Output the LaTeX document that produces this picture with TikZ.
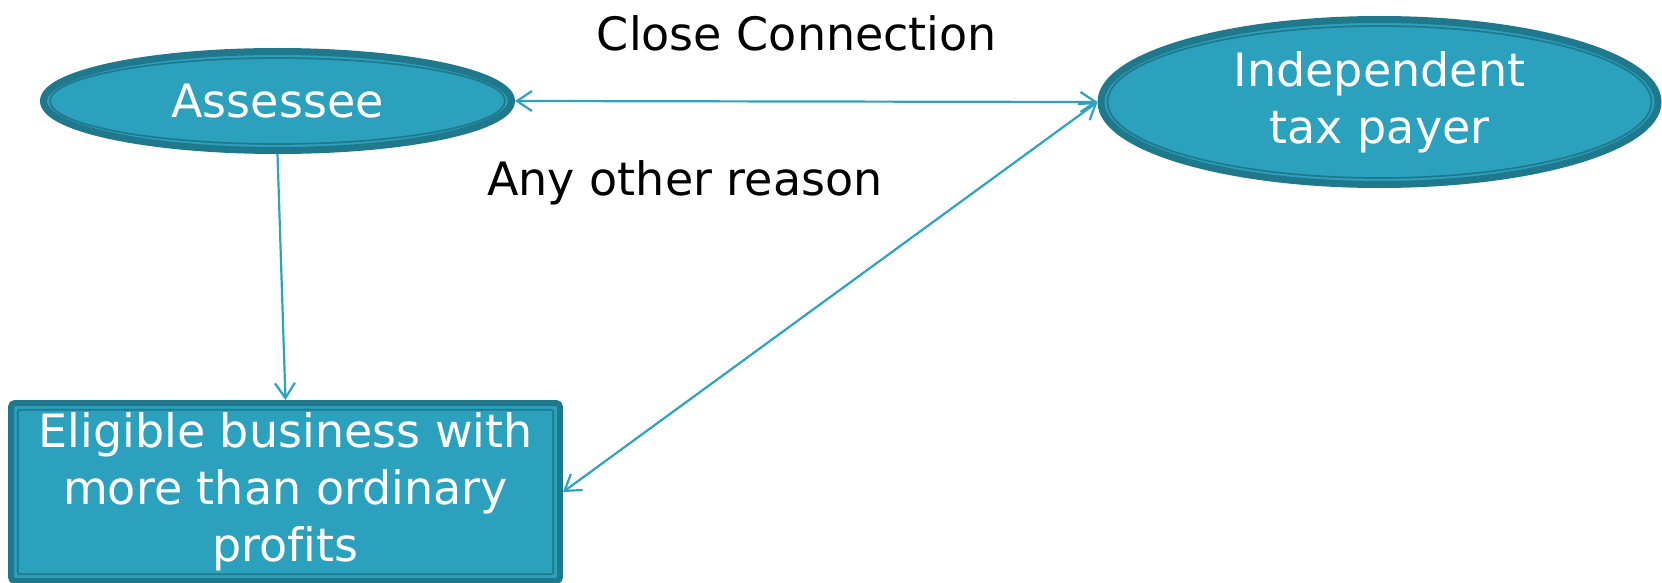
\documentclass[tikz,border=0pt]{standalone}
\usepackage{fontspec}
\setmainfont[Ligatures=NoCommon]{DejaVu Sans}
\usetikzlibrary{shapes.geometric,arrows.meta}
\definecolor{boxfill}{HTML}{2CA1BE}
\definecolor{boxedge}{HTML}{1F788C}
\definecolor{linkc}{HTML}{2DA3C0}
\tikzset{
  bigtext/.style={font=\fontsize{46}{57}\selectfont},
  oval/.style={ellipse, draw=boxedge, line width=7pt, fill=boxfill,
    text=white, align=center, inner sep=0pt, bigtext},
  panel/.style={rectangle, rounded corners=4pt, draw=boxedge, line width=6pt,
    fill=boxfill, text=white, align=center, inner sep=0pt, bigtext},
  innerline/.style={draw=boxedge, line width=1.7pt},
  link/.style={draw=linkc, line width=2.2pt,
    arrows={Straight Barb[length=15pt,width=20pt,line width=2.2pt]-Straight Barb[length=15pt,width=20pt,line width=2.2pt]}},
  onelink/.style={draw=linkc, line width=2.2pt,
    arrows={-Straight Barb[length=15pt,width=20pt,line width=2.2pt]}},
  caption/.style={bigtext, text=black, anchor=base, inner sep=0pt}
}
\begin{document}
\begin{tikzpicture}[x=1pt,y=-1pt]
\useasboundingbox (0,0) rectangle (1662,583);
\fill[white] (0,0) rectangle (1662,583);

% the three boxes
\node[oval, minimum width=468pt, minimum height=99pt] (as) at (277.5,101) {Assessee};
\node[oval, minimum width=557pt, minimum height=165pt] (ind) at (1379.5,102) {Independent\\tax payer};
\node[panel, minimum width=549pt, minimum height=178pt] (biz) at (285.5,492)
  {Eligible business with\\more than ordinary\\profits};

% inner trim lines
\draw[innerline] (as.center) ellipse [x radius=227.5pt, y radius=43pt];
\draw[innerline] (ind.center) ellipse [x radius=272pt, y radius=76pt];
\draw[innerline, rounded corners=2pt] (17.8,409.8) rectangle (553.2,574.2);

% connectors
\draw[link] (as.east) -- (ind.west);
\draw[link] (ind.west) -- (biz.east);
\draw[onelink] (as.south) -- (biz.north);

% labels
\node[caption] (close) at (797,51) {Close Connection};
\node[caption] (other) at (685,195) {Any other reason};
\end{tikzpicture}
\end{document}
